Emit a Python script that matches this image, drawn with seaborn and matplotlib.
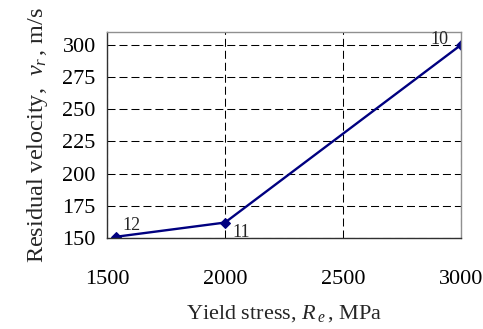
import matplotlib
matplotlib.use("Agg")
import matplotlib.pyplot as plt
import seaborn as sns
import pandas as pd

yield_stress = [1540, 2000, 3000]
residual_velocity = [151, 162, 300]
point_labels = ["12", "11", "10"]
x_ticks = [1500, 2000, 2500, 3000]
y_ticks = [150, 175, 200, 225, 250, 275, 300]

sns.set_theme(style="white")
plt.rcParams['font.family'] = ['Liberation Serif', 'DejaVu Serif']
plt.rcParams['mathtext.fontset'] = 'custom'
plt.rcParams['mathtext.rm'] = 'Liberation Serif'
plt.rcParams['mathtext.it'] = 'Liberation Serif:italic'

df = pd.DataFrame({"x": yield_stress, "y": residual_velocity})

fig = plt.figure(figsize=(4.83, 3.29), dpi=100)
ax = fig.add_axes([0.2215, 0.2766, 0.7330, 0.6261])

sns.lineplot(data=df, x="x", y="y", ax=ax, color="#000080", linewidth=1.7,
             marker="D", markersize=5, markeredgecolor="#000080")

ax.set_xlim(1500, 3000)
ax.set_ylim(150, 310)
ax.set_xticks(x_ticks)
ax.set_yticks(y_ticks)
ax.grid(True, color="black", linestyle=(0, (7.7, 3.8)), linewidth=0.75)
ax.set_axisbelow(True)

for side in ["top", "right"]:
    ax.spines[side].set_color("#909090")
    ax.spines[side].set_linewidth(1.0)
for side in ["left", "bottom"]:
    ax.spines[side].set_color("#303030")
    ax.spines[side].set_linewidth(1.0)

ax.tick_params(axis="both", direction="out", length=7, width=0.8, color="#303030",
               labelsize=16, labelcolor="black")
ax.tick_params(axis="x", pad=16)
ax.tick_params(axis="y", pad=1)

offsets = [(4, 2, "left", "bottom"), (5, -1, "left", "top"), (-9, -2, "right", "bottom")]
for x, y, lab, (dx, dy, ha, va) in zip(yield_stress, residual_velocity, point_labels, offsets):
    ax.annotate(lab, (x, y), xytext=(dx, dy), textcoords="offset points",
                ha=ha, va=va, fontsize=13)

ax.set_xlabel("Yield stress, $R_{\\,e}\\,$, MPa", fontsize=16, labelpad=10)
ax.set_ylabel("Residual velocity, $\\ v_r\\,$, m/s", fontsize=17.5, labelpad=9)

fig.savefig("out.png", dpi=100)
